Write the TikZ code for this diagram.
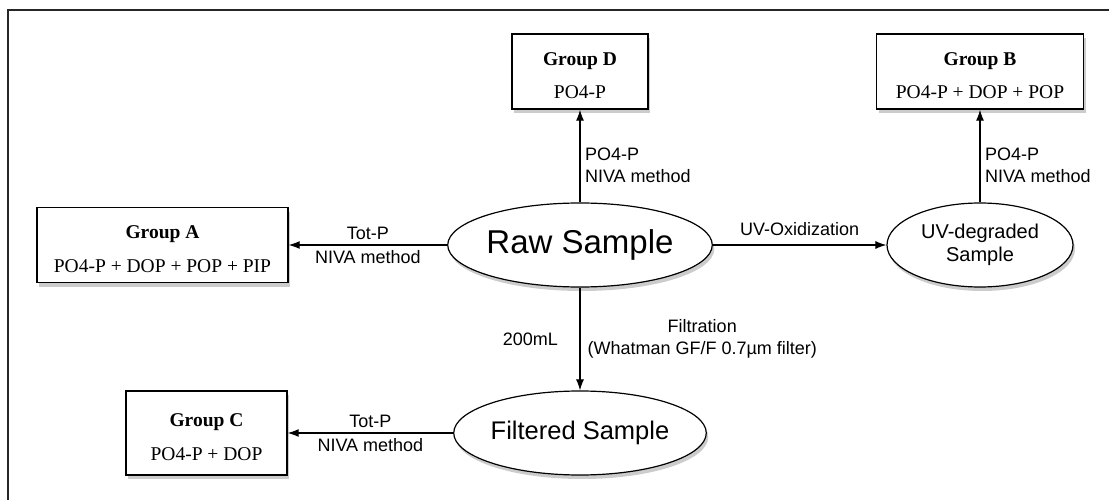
\documentclass[tikz,border=0pt]{standalone}
\usepackage{fontspec}
\setmainfont{Liberation Serif}
\setsansfont{Liberation Sans}
\usetikzlibrary{positioning, arrows.meta, shapes, shadows}
\tikzstyle{block}=[draw, line width=1.4pt, fill=white, rectangle, inner sep=0pt, font=\rmfamily\fontsize{19.5}{23.4}\selectfont, drop shadow={shadow xshift=2pt, shadow yshift=-4pt, opacity=0.4}]
\tikzstyle{sample}=[draw, line width=1.2pt, fill=white, ellipse, inner sep=0pt, align=center, drop shadow={shadow xshift=2pt, shadow yshift=-4pt, opacity=0.4}]
\tikzstyle{lbl}=[font=\sffamily\fontsize{18}{21.6}\selectfont, inner sep=4.5pt]
\newcommand{\grp}[2]{\raisebox{-11pt}[0pt][0pt]{\begin{tabular}{@{}c@{}}\textbf{#1}\\[10pt]#2\end{tabular}}}

\begin{document}
\begin{tikzpicture}[>={Latex[length=11pt,width=8pt]}, x=1pt, y=-1pt]
    \useasboundingbox (0,0) rectangle (1109,500);
    \draw[line width=1.8pt, black!85] (8,500) -- (8,10) -- (1109,10);

    % result groups
    \node[block, minimum width=251pt, minimum height=75pt] (grpA) at (162.5,245) {\grp{Group A}{PO4-P + DOP + POP + PIP}};
    \node[block, minimum width=136pt, minimum height=75pt] (grpD) at (580,71.5) {\grp{Group D}{PO4-P}};
    \node[block, minimum width=207pt, minimum height=75pt] (grpB) at (980,71.5) {\grp{Group B}{PO4-P + DOP + POP}};
    \node[block, minimum width=161pt, minimum height=84pt] (grpC) at (206.5,433) {\grp{Group C}{PO4-P + DOP}};

    % samples
    \node[sample, minimum width=263pt, minimum height=84pt, font=\sffamily\fontsize{33}{40}\selectfont] (rawS) at (580,245) {Raw Sample};
    \node[sample, minimum width=186pt, minimum height=84pt, font=\sffamily\fontsize{20}{23.5}\selectfont] (uvS) at (980,245) {UV-degraded\\Sample};
    \node[sample, minimum width=252pt, minimum height=84pt, font=\sffamily\fontsize{25.5}{30}\selectfont] (filtS) at (580,433) {Filtered Sample};

    \draw[->, line width=1.1pt] (rawS) -- node[lbl, above] {Tot-P} node[lbl, below] {NIVA method} (grpA);
    \draw[->, line width=1.1pt] (rawS) -- node[lbl, right, align=left, pos=0.4] {PO4-P\\NIVA method} (grpD);
    \draw[->, line width=1.1pt] (rawS) -- node[lbl, above=4pt] {UV-Oxidization} (uvS);
    \draw[->, line width=1.1pt] (uvS) -- node[lbl, right, align=left, pos=0.4] {PO4-P\\NIVA method} (grpB);
    \draw[->, line width=1.1pt] (rawS) -- node[lbl, left=17pt] {200mL} node[lbl, right=2.5pt, align=center] {Filtration\\(Whatman GF/F 0.7µm filter)} (filtS);
    \draw[->, line width=1.1pt] (filtS) -- node[lbl, above] {Tot-P} node[lbl, below] {NIVA method} (grpC);
\end{tikzpicture}
\end{document}
